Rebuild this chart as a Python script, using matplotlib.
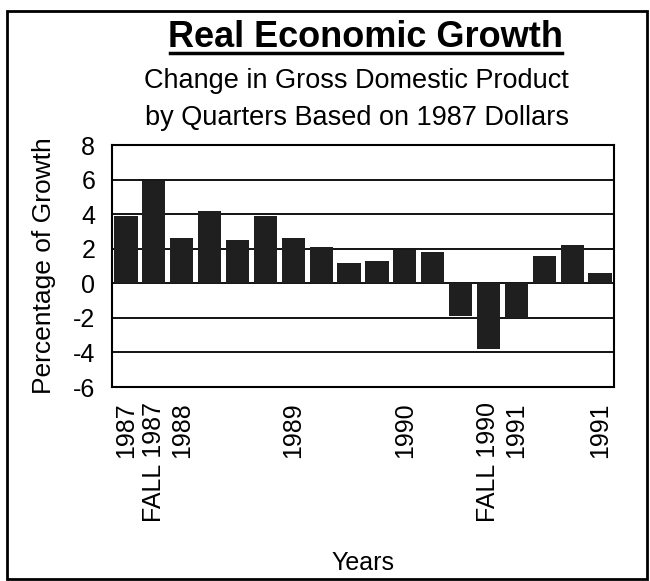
import numpy as np
import matplotlib.pyplot as plt
from matplotlib.patches import Rectangle
from matplotlib.lines import Line2D

# --- DATA ---
growth = [3.9, 5.9, 2.6, 4.2, 2.5, 3.9, 2.6, 2.1, 1.2, 1.3, 1.9, 1.8,
          -1.9, -3.8, -2.0, 1.6, 2.2, 0.6]
tick_pos = [0, 1, 2, 6, 10, 13, 14, 17]
tick_labels = ["1987", "FALL 1987", "1988", "1989", "1990", "FALL 1990", "1991", "1991"]
y_ticks = [8, 6, 4, 2, 0, -2, -4, -6]

plt.rcParams["font.family"] = ["Liberation Sans", "DejaVu Sans"]

fig = plt.figure(figsize=(6.5, 5.81), dpi=100)
ax = fig.add_axes([0.1723, 0.3339, 0.7723, 0.4165])

x = np.arange(len(growth))
ax.bar(x, growth, width=0.83, color="#1f1f1f", zorder=3)

# horizontal rules at every tick
for yv in y_ticks:
    ax.axhline(yv, color="black", lw=1.3, zorder=2)

ax.set_xlim(-0.5, len(growth) - 0.5)
ax.set_ylim(-6, 8)
ax.set_yticks(y_ticks)
ax.set_yticklabels([str(v) for v in y_ticks], fontsize=18)
ax.set_xticks(tick_pos)
ax.set_xticklabels(tick_labels, rotation=90, fontsize=18)
ax.tick_params(axis="both", length=0)
ax.tick_params(axis="y", pad=12)
ax.tick_params(axis="x", pad=11)
for s in ax.spines.values():
    s.set_linewidth(1.5)

ax.set_ylabel("Percentage of Growth", fontsize=19, labelpad=12)
ax.set_xlabel("Years", fontsize=18, labelpad=21)

# --- titles ---
fig.text(0.5623, 0.919, "Real Economic Growth", fontsize=26, fontweight="bold",
         ha="center", va="baseline")
fig.add_artist(Line2D([0.2615, 0.864], [0.9088, 0.9088], color="black", lw=2.5))
fig.text(0.549, 0.8485, "Change in Gross Domestic Product", fontsize=19.5,
         ha="center", va="baseline")
fig.text(0.549, 0.7849, "by Quarters Based on 1987 Dollars", fontsize=19.5,
         ha="center", va="baseline")

# outer frame
fig.add_artist(Rectangle((0.01, 0.004), 0.986, 0.977, fill=False,
                         edgecolor="black", lw=2, transform=fig.transFigure))

fig.savefig("out.png", dpi=100)
